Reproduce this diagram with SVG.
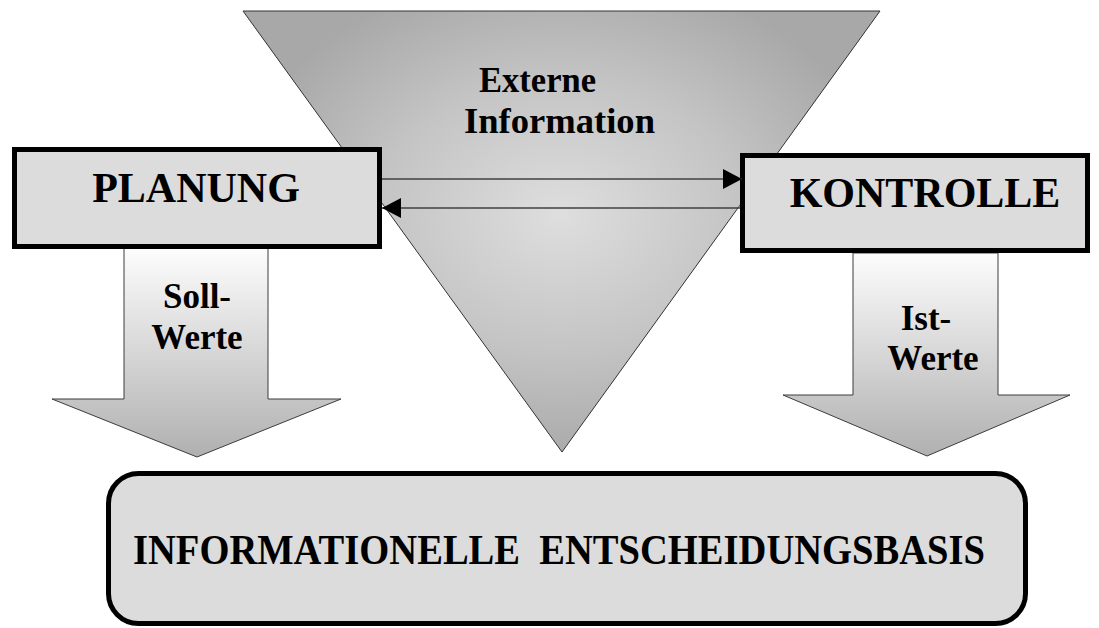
<svg xmlns="http://www.w3.org/2000/svg" width="1099" height="628" viewBox="0 0 1099 628">
  <style>
    .lbl { font-family: "Liberation Serif", "Times New Roman", serif; font-weight: bold; fill: #000; }
    .box { fill: #dcdcdc; stroke: #000; stroke-width: 5; }
    .down { fill: url(#downFill); stroke: #3c3c3c; stroke-width: 1; }
    .link { fill: none; stroke: #404040; stroke-width: 1.5; }
  </style>
  <defs>
    <radialGradient id="funnelFill" gradientUnits="userSpaceOnUse" cx="560" cy="215" r="330" gradientTransform="translate(560 215) scale(1 0.75) translate(-560 -215)">
      <stop offset="0" stop-color="#dedede"/>
      <stop offset="0.55" stop-color="#c4c4c4"/>
      <stop offset="1" stop-color="#a8a8a8"/>
    </radialGradient>
    <linearGradient id="downFill" x1="0" y1="0" x2="0" y2="1">
      <stop offset="0" stop-color="#fdfdfd"/>
      <stop offset="1" stop-color="#b0b0b0"/>
    </linearGradient>
    <marker id="head" markerUnits="userSpaceOnUse" markerWidth="20" markerHeight="22" refX="19" refY="10" orient="auto">
      <path d="M0,0 L19,10 L0,20 Z" fill="#000"/>
    </marker>
  </defs>

  <!-- external information funnel -->
  <g id="externe-information">
    <polygon points="243,11 880,11 562,452" fill="url(#funnelFill)" stroke="#333" stroke-width="1"/>
    <text class="lbl" x="479" y="92" font-size="35" textLength="117" lengthAdjust="spacingAndGlyphs">Externe</text>
    <text class="lbl" x="464" y="133" font-size="35" textLength="191" lengthAdjust="spacingAndGlyphs">Information</text>
  </g>

  <!-- target values flowing down -->
  <g id="soll-werte">
    <path class="down" d="M124,248 L268,248 L268,399 L341,399 L197,457 L52,399 L124,399 Z"/>
    <text class="lbl" x="197" y="308" font-size="35" text-anchor="middle">Soll-</text>
    <text class="lbl" x="197" y="349" font-size="35" text-anchor="middle">Werte</text>
  </g>

  <!-- actual values flowing down -->
  <g id="ist-werte">
    <path class="down" d="M853,253 L998,253 L998,395 L1070,395 L927,456 L783,395 L853,395 Z"/>
    <text class="lbl" x="926" y="330" font-size="35" text-anchor="middle">Ist-</text>
    <text class="lbl" x="933" y="370" font-size="35" text-anchor="middle">Werte</text>
  </g>

  <g id="planung">
    <rect class="box" x="14.5" y="149.5" width="365" height="97"/>
    <text class="lbl" x="196" y="202" font-size="42" text-anchor="middle">PLANUNG</text>
  </g>

  <g id="kontrolle">
    <rect class="box" x="742.5" y="155.5" width="345" height="95"/>
    <text class="lbl" x="925" y="207" font-size="42" text-anchor="middle">KONTROLLE</text>
  </g>

  <g id="entscheidungsbasis">
    <rect class="box" x="108.5" y="473.5" width="917" height="150" rx="30" ry="30"/>
    <text class="lbl" x="133" y="564" font-size="42" textLength="852" lengthAdjust="spacingAndGlyphs" style="white-space:pre">INFORMATIONELLE  ENTSCHEIDUNGSBASIS</text>
  </g>

  <!-- exchange between planning and control -->
  <g id="connectors">
    <line class="link" x1="382" y1="179" x2="742" y2="179" marker-end="url(#head)"/>
    <line class="link" x1="740" y1="208" x2="382" y2="208" marker-end="url(#head)"/>
  </g>
</svg>
